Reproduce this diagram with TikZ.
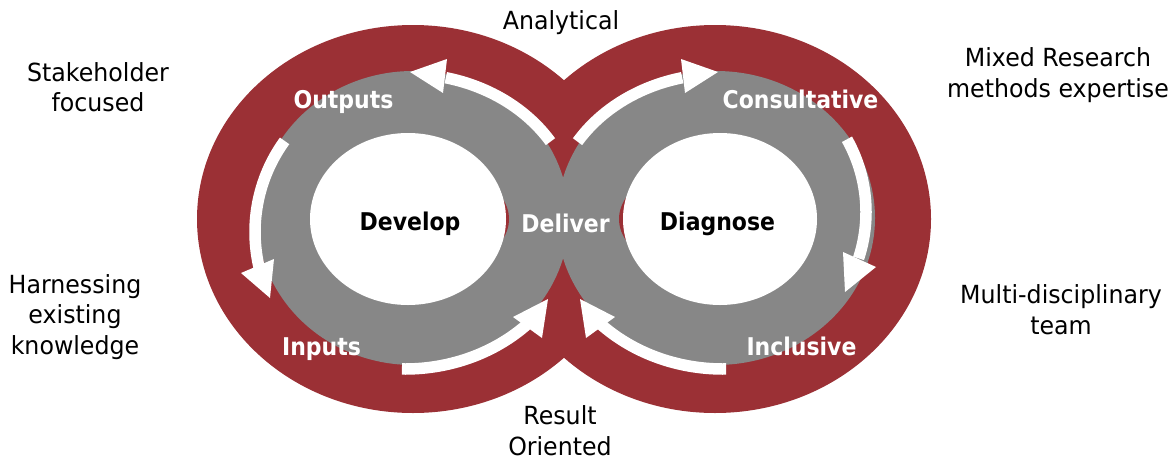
\documentclass[tikz,border=0pt]{standalone}
\usepackage{fontspec}
\setmainfont{DejaVu Sans}[FakeStretch=0.95]
\newfontfamily\lblbold{DejaVu Sans}[FakeStretch=0.9]
\definecolor{ringred}{RGB}{155,48,53}
\definecolor{ringgray}{RGB}{135,135,135}
\begin{document}
\begin{tikzpicture}[x=0.02cm,y=-0.02cm,
  band/.style={draw=white, line width=0.23cm, line cap=butt},
  headtri/.style={fill=white, draw=none},
  outerlbl/.style={font=\fontsize{14.2}{17.6}\selectfont, align=center, inner sep=0pt, text=black},
  innerlbl/.style={font=\lblbold\bfseries\fontsize{13.9}{16}\selectfont, inner sep=0pt, anchor=base, text=white},
  centerlbl/.style={innerlbl, text=black}]
\useasboundingbox (0,0) rectangle (1169,460);
% red outer ellipses
\fill[ringred] (413,219) ellipse [x radius=216, y radius=194];
\fill[ringred] (715,219) ellipse [x radius=216, y radius=194];
% gray rings
\fill[ringgray] (413,218) ellipse [x radius=156, y radius=147];
\fill[ringgray] (716,218) ellipse [x radius=159, y radius=147];
% red slivers beside the holes
\fill[ringred] (500,195) .. controls (512,210) and (512,228) .. (500,243) -- cycle;
\fill[ringred] (628,195) .. controls (616,210) and (616,228) .. (628,243) -- cycle;
% white holes
\fill[white] (408,219) ellipse [x radius=98, y radius=86];
\fill[white] (720,219) ellipse [x radius=97, y radius=86];
% arrows, left ring
\draw[band] plot[domain=-32:-77, samples=40, variable=\t] ({408+168*cos(\t)},{218+144*sin(\t)});
\fill[headtri] (447,59) -- (443,93) -- (410,72) -- cycle;
\draw[band] plot[domain=216:167, samples=40, variable=\t] ({410+155*cos(\t)},{232+155*sin(\t)});
\fill[headtri] (241,273) -- (274,259) -- (270,298) -- cycle;
\draw[band] plot[domain=91:45, samples=40, variable=\t] ({405+173*cos(\t)},{216+153*sin(\t)});
\fill[headtri] (513,317) -- (548,299) -- (542,338) -- cycle;
% arrows, right ring
\draw[band] plot[domain=-148:-103, samples=40, variable=\t] ({720+168*cos(\t)},{218+144*sin(\t)});
\fill[headtri] (681,59) -- (685,93) -- (718,72) -- cycle;
\draw[band] plot[domain=-29:18, samples=40, variable=\t] ({714+152*cos(\t)},{212+150*sin(\t)});
\fill[headtri] (843,252) -- (876,267) -- (845,292) -- cycle;
\draw[band] plot[domain=89:135, samples=40, variable=\t] ({723+173*cos(\t)},{216+153*sin(\t)});
\fill[headtri] (615,317) -- (580,299) -- (586,338) -- cycle;
% inner labels
\node[innerlbl] (outputs) at (343.5,108.3) {Outputs};
\node[innerlbl] (consult) at (800.5,108) {Consultative};
\node[centerlbl] (develop) at (410,230) {Develop};
\node[centerlbl] (diagnose) at (717.5,230) {Diagnose};
\node[innerlbl] (deliver) at (565.5,232.7) {Deliver};
\node[innerlbl] (inputs) at (321.5,355) {Inputs};
\node[innerlbl] (inclusive) at (801.5,355) {Inclusive};
% outer labels
\node[outerlbl] (analytical) at (561,23.8) {\strut Analytical};
\node[outerlbl] (stake) at (98,90.3) {\strut Stakeholder\\\strut focused};
\node[outerlbl] (harness) at (75,317.8) {\strut Harnessing\\\strut existing\\\strut knowledge};
\node[outerlbl] (mixed) at (1058,75.8) {\strut Mixed Research\\\strut methods expertise};
\node[outerlbl] (multi) at (1061,312.8) {\strut Multi-disciplinary\\\strut team};
\node[outerlbl] (result) at (560,434) {\strut Result\\\strut Oriented};
\end{tikzpicture}
\end{document}
